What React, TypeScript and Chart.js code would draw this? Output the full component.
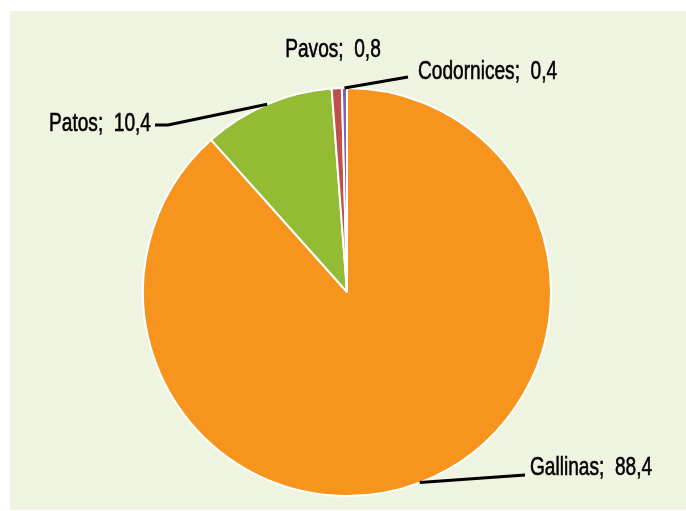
import React, { useEffect, useRef } from "react";
import { Chart, registerables } from "chart.js";

Chart.register(...registerables);

const categories = ["Gallinas", "Patos", "Pavos", "Codornices"];
const values = [88.4, 10.4, 0.8, 0.4];
const valueLabels = ["88,4", "10,4", "0,8", "0,4"];
const colors = ["#f7941d", "#93bb33", "#c0504d", "#8064a2"];

// label layout: text anchor (x,y), alignment, elbow point (null = no leader)
const labelLayout = [
  { tx: 530, ty: 468, align: "left", elbow: [525, 475], line: true },
  { tx: 151, ty: 124, align: "right", elbow: [168, 125], end: [155, 125], line: true },
  { tx: 333, ty: 50, align: "center", elbow: null, line: false },
  { tx: 418, ty: 72, align: "left", elbow: [408, 77], line: true },
];

const FONT = '26px "Liberation Sans Narrow", "Liberation Sans", sans-serif';
const SX = 0.735;

const labelPlugin = {
  id: "pieLabels",
  afterDatasetsDraw(chart: any) {
    const ctx = chart.ctx;
    const meta = chart.getDatasetMeta(0);
    ctx.save();
    meta.data.forEach((arc: any, i: number) => {
      const { x, y, startAngle, endAngle, outerRadius } = arc.getProps(
        ["x", "y", "startAngle", "endAngle", "outerRadius"],
        true
      );
      const mid = (startAngle + endAngle) / 2;
      const ex = x + Math.cos(mid) * outerRadius;
      const ey = y + Math.sin(mid) * outerRadius;
      const L = labelLayout[i];
      if (L.line && L.elbow) {
        ctx.beginPath();
        ctx.strokeStyle = "#000";
        ctx.lineWidth = 3;
        ctx.moveTo(ex, ey);
        ctx.lineTo(L.elbow[0], L.elbow[1]);
        if ((L as any).end) ctx.lineTo((L as any).end[0], (L as any).end[1]);
        ctx.stroke();
      }
      const text = categories[i] + ";  " + valueLabels[i];
      ctx.font = FONT;
      ctx.fillStyle = "#000";
      ctx.strokeStyle = "#000";
      ctx.lineWidth = 0.6;
      ctx.textBaseline = "middle";
      ctx.textAlign = "left";
      const w = ctx.measureText(text).width * SX;
      let left = L.tx;
      if (L.align === "right") left = L.tx - w;
      else if (L.align === "center") left = L.tx - w / 2;
      ctx.save();
      ctx.translate(left, L.ty);
      ctx.scale(SX, 1);
      ctx.fillText(text, 0, 0);
      ctx.strokeText(text, 0, 0);
      ctx.restore();
    });
    ctx.restore();
  },
};

export default function App() {
  const ref = useRef<HTMLCanvasElement>(null);
  useEffect(() => {
    document.body.style.margin = "0";
    const chart = new Chart(ref.current!, {
      type: "pie",
      data: {
        labels: categories,
        datasets: [
          {
            data: values,
            backgroundColor: colors,
            borderColor: "#ffffff",
            borderWidth: 2,
          },
        ],
      },
      options: {
        responsive: false,
        animation: false,
        radius: 204,
        layout: { padding: { left: 143, right: 135, top: 88, bottom: 15 } },
        plugins: {
          legend: { display: false },
          tooltip: { enabled: false },
        },
      },
      plugins: [labelPlugin],
    });
    return () => chart.destroy();
  }, []);
  return (
    <div style={{ position: "relative", width: 686, height: 511, background: "#ffffff" }}>
      <div
        style={{
          position: "absolute",
          left: 10,
          top: 11,
          width: 676,
          height: 499,
          background: "#eff4e1",
        }}
      />
      <canvas
        ref={ref}
        width={686}
        height={511}
        style={{ position: "absolute", left: 0, top: 0 }}
      />
    </div>
  );
}
